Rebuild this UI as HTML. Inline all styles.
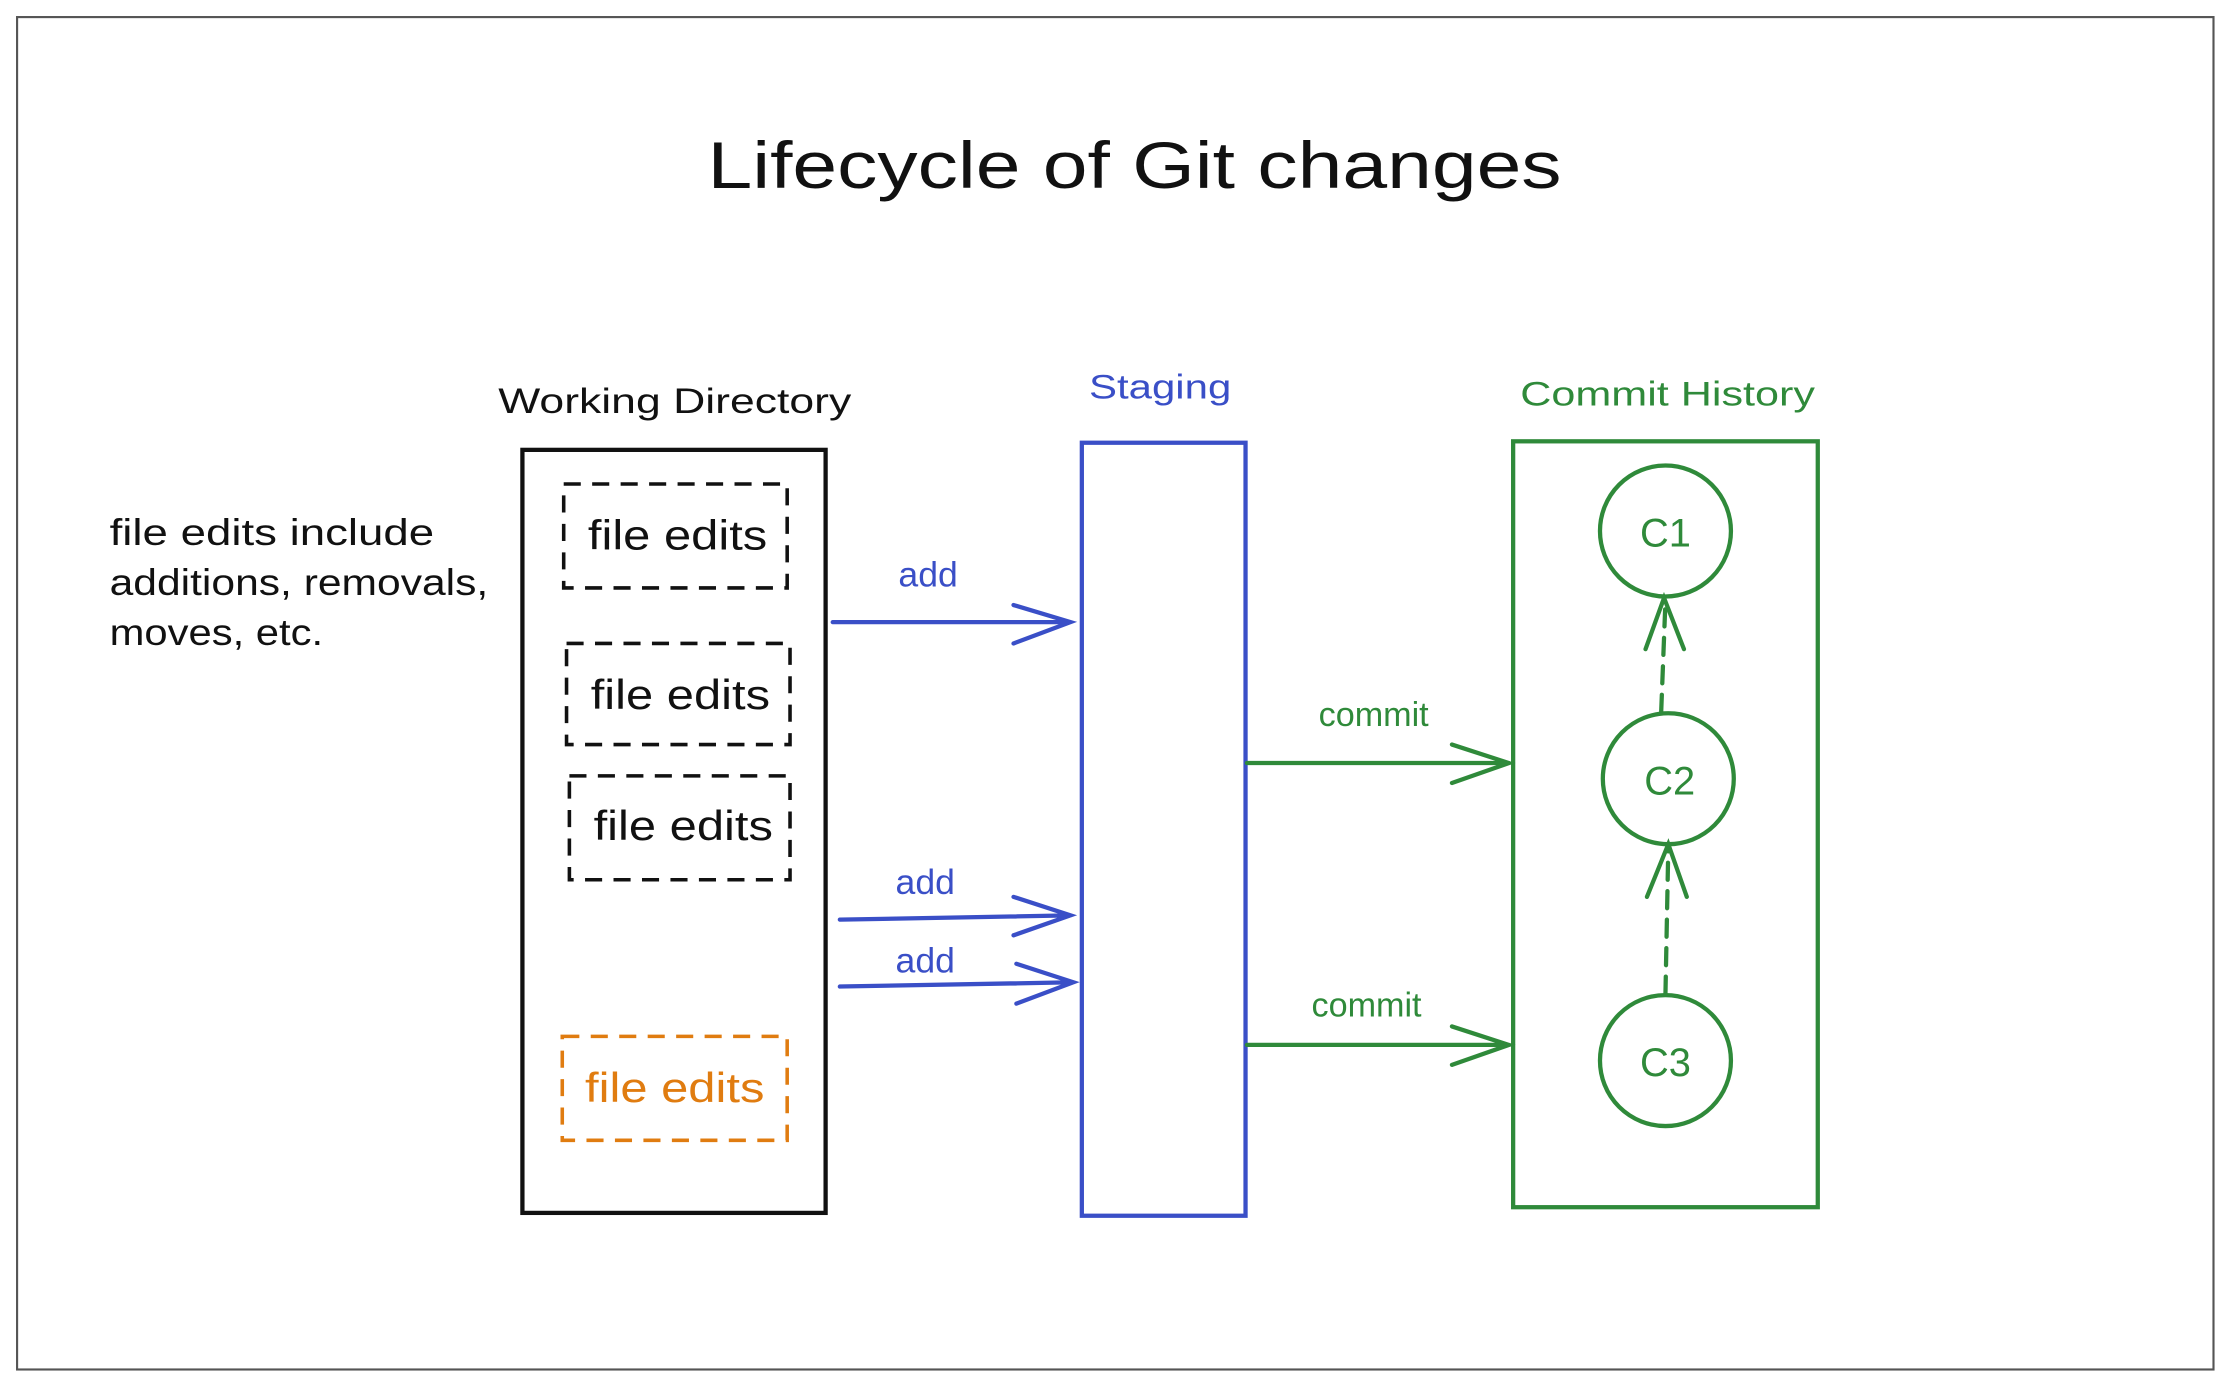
<!DOCTYPE html>
<html><head><meta charset="utf-8"><style>
html,body{margin:0;padding:0;background:#fff;}
svg{display:block;}
text{font-family:"Liberation Sans",sans-serif;}
</style></head><body>
<svg width="2232" height="1388" viewBox="0 0 1568 975" preserveAspectRatio="none" xmlns="http://www.w3.org/2000/svg">
<rect x="0" y="0" width="1568" height="975" fill="#fff"/>
<rect x="12" y="12" width="1543" height="950" fill="none" stroke="#555" stroke-width="1.5"/>
<text x="797" y="132" font-size="46" text-anchor="middle" textLength="600" lengthAdjust="spacingAndGlyphs" fill="#111">Lifecycle of Git changes</text>

<!-- Working directory -->
<text x="350" y="290" font-size="25" textLength="248" lengthAdjust="spacingAndGlyphs" fill="#111">Working Directory</text>
<rect x="367" y="316" width="213" height="536" fill="none" stroke="#111" stroke-width="3"/>
<g fill="none" stroke-width="2.5" stroke-dasharray="12,8">
<rect x="396" y="340" width="157" height="73" stroke="#111"/>
<rect x="398" y="452" width="157" height="71" stroke="#111"/>
<rect x="400" y="545" width="155" height="73" stroke="#111"/>
<rect x="395" y="728" width="158" height="73" stroke="#e07c10"/>
</g>
<g font-size="29" fill="#111">
<text x="413" y="386" textLength="126" lengthAdjust="spacingAndGlyphs">file edits</text>
<text x="415" y="498" textLength="126" lengthAdjust="spacingAndGlyphs">file edits</text>
<text x="417" y="590" textLength="126" lengthAdjust="spacingAndGlyphs">file edits</text>
<text x="411" y="774" textLength="126" lengthAdjust="spacingAndGlyphs" fill="#e07c10">file edits</text>
</g>
<g font-size="26" fill="#111">
<text x="77" y="383" textLength="228" lengthAdjust="spacingAndGlyphs">file edits include</text>
<text x="77" y="418" textLength="266" lengthAdjust="spacingAndGlyphs">additions, removals,</text>
<text x="77" y="453" textLength="150" lengthAdjust="spacingAndGlyphs">moves, etc.</text>
</g>

<!-- Staging -->
<text x="765" y="280" font-size="24" textLength="100" lengthAdjust="spacingAndGlyphs" fill="#3a4fc7">Staging</text>
<rect x="760" y="311" width="115" height="543" fill="none" stroke="#3a4fc7" stroke-width="3"/>
<g stroke="#3a4fc7" stroke-width="3" fill="none" stroke-linecap="round">
<path d="M585 437 L752 437 M712 425 L752 437 L712 452"/>
<path d="M590 646 L752 643 M712 630 L752 643 L712 657"/>
<path d="M590 693 L754 690 M714 677 L754 690 L714 705"/>
</g>
<g font-size="25" fill="#3a4fc7" text-anchor="middle">
<text x="652" y="412">add</text>
<text x="650" y="628">add</text>
<text x="650" y="683">add</text>
</g>

<!-- Commit history -->
<text x="1068" y="285" font-size="24" textLength="207" lengthAdjust="spacingAndGlyphs" fill="#2f8a3a">Commit History</text>
<rect x="1063" y="310" width="214" height="538" fill="none" stroke="#2f8a3a" stroke-width="3"/>
<g stroke="#2f8a3a" stroke-width="3" fill="none" stroke-linecap="round">
<path d="M876 536 L1060 536 M1020 523 L1060 536 L1020 550"/>
<path d="M876 734 L1060 734 M1020 721 L1060 734 L1020 748"/>
<circle cx="1170" cy="373" r="46"/>
<circle cx="1172" cy="547" r="46"/>
<circle cx="1170" cy="745" r="46"/>
<path d="M1170 698 L1172 595" stroke-dasharray="12,8"/>
<path d="M1157 630 L1172 593 L1185 630"/>
<path d="M1167 500 L1170 422" stroke-dasharray="12,8"/>
<path d="M1156 456 L1169 420 L1183 456"/>
</g>
<g font-size="24" fill="#2f8a3a" text-anchor="middle">
<text x="965" y="510">commit</text>
<text x="960" y="714">commit</text>
<text x="1170" y="384" font-size="28">C1</text>
<text x="1173" y="558" font-size="28">C2</text>
<text x="1170" y="756" font-size="28">C3</text>
</g>
</svg>
</body></html>
